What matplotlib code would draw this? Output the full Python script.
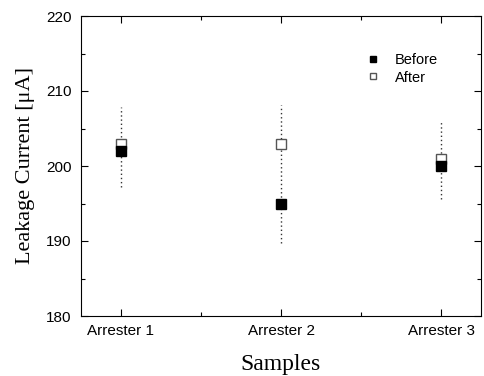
import matplotlib
matplotlib.use("Agg")
import matplotlib.pyplot as plt
from matplotlib.ticker import MultipleLocator

samples = ["Arrester 1", "Arrester 2", "Arrester 3"]
before = [202.0, 195.0, 200.0]
after = [203.0, 203.0, 201.0]
range_low = [197.2, 189.7, 195.6]
range_high = [207.9, 208.1, 205.9]

fig = plt.figure(figsize=(4.84, 3.76), dpi=100)
ax = fig.add_axes([81/484, 1-316/376, 400/484, 300/376])

x = list(range(1, len(samples) + 1))
ax.vlines(x, range_low, range_high, colors="#333333", linestyles=(0, (1, 2)), linewidth=1.0, zorder=1)
ax.plot(x, before, ls="none", marker="s", ms=6.5, mfc="black", mec="black", label="Before", zorder=3)
ax.plot(x, after, ls="none", marker="s", ms=6.5, mfc="white", mec="#555555", mew=1.0, label="After", zorder=2)

ax.set_xlim(0.75, 3.25)
ax.set_ylim(180, 220)
ax.set_xticks(x)
ax.set_xticklabels(samples, family="Liberation Sans", fontsize=11)
ax.xaxis.set_minor_locator(MultipleLocator(0.5))
ax.yaxis.set_major_locator(MultipleLocator(10))
ax.yaxis.set_minor_locator(MultipleLocator(5))
for lab in ax.get_yticklabels():
    lab.set_family("Liberation Sans")
    lab.set_fontsize(11)
ax.tick_params(which="both", direction="in", top=True, right=True)
ax.tick_params(which="major", length=5, width=0.8)
ax.tick_params(which="minor", length=3, width=0.8)
ax.tick_params(axis="x", pad=6)
ax.tick_params(axis="y", pad=7)

ax.set_xlabel("Samples", family="Liberation Serif", fontsize=17, labelpad=11)
ax.set_ylabel("Leakage Current [\u03bcA]", family="Liberation Serif", fontsize=16, labelpad=8)

leg = ax.legend(loc="upper left", bbox_to_anchor=(0.6975, 0.895), frameon=False, borderaxespad=0,
                prop={"family": "Liberation Sans", "size": 10.5}, handletextpad=1.0,
                labelspacing=0.22, handlelength=1.0, markerscale=0.75)

fig.savefig("out.png", dpi=100)
